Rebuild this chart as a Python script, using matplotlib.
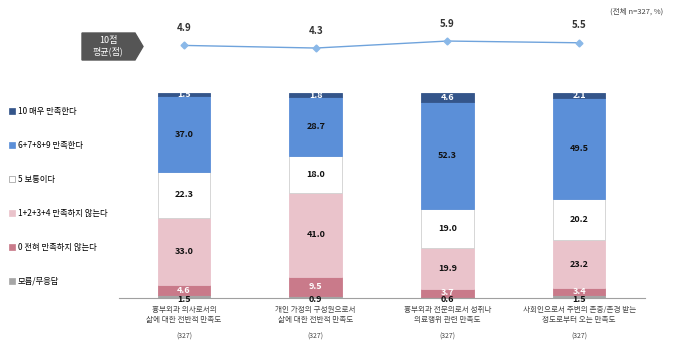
import matplotlib.pyplot as plt
from matplotlib.patches import Polygon, Patch

plt.rcParams['font.family'] = ['Noto Sans CJK KR', 'DejaVu Sans']

# ========== Data ==========
categories = [
    "흉부외과 의사로서의\n삶에 대한 전반적 만족도",
    "개인 가정의 구성원으로서\n삶에 대한 전반적 만족도",
    "흉부외과 전문의로서 성취나\n의료행위 관련 만족도",
    "사회인으로서 주변의 존중/존경 받는\n정도로부터 오는 만족도",
]
counts = ["(327)", "(327)", "(327)", "(327)"]

# stacked bottom -> top
series_names = ["모름/무응답", "0 전혀 만족하지 않는다", "1+2+3+4 만족하지 않는다",
                "5 보통이다", "6+7+8+9 만족한다", "10 매우 만족한다"]
dont_know = [1.5, 0.9, 0.6, 1.5]
score_0 = [4.6, 9.5, 3.7, 3.4]
score_1_4 = [33.0, 41.0, 19.9, 23.2]
score_5 = [22.3, 18.0, 19.0, 20.2]
score_6_9 = [37.0, 28.7, 52.3, 49.5]
score_10 = [1.5, 1.8, 4.6, 2.1]
means = [4.9, 4.3, 5.9, 5.5]

colors = ["#a6a6a6", "#c97a8a", "#eac3cb", "#ffffff", "#5b8fd8", "#34558a"]
text_colors = ["#111111", "white", "#111111", "#111111", "#111111", "white"]

# ========== Figure ==========
fig = plt.figure(figsize=(6.8, 3.5), dpi=100)
ax = fig.add_axes([0.175, 0.1486, 0.7735, 0.5857])

x = list(range(len(categories)))
stack = [dont_know, score_0, score_1_4, score_5, score_6_9, score_10]
bottom = [0.0] * len(x)
handles = []
for i, vals in enumerate(stack):
    ax.bar(x, vals, bottom=bottom, width=0.40, color=colors[i],
           edgecolor="#d0d0d0" if i == 3 else colors[i], linewidth=0.6)
    for j, v in enumerate(vals):
        if i == 0:
            ypos = -0.6
        else:
            ypos = bottom[j] + v / 2
        ax.text(x[j], ypos, f"{v:.1f}", ha="center", va="center",
                fontsize=6.5, fontweight="bold", color=text_colors[i])
    bottom = [b + v for b, v in zip(bottom, vals)]
    handles.append(Patch(facecolor=colors[i],
                         edgecolor="#999999" if i == 3 else colors[i],
                         linewidth=0.5, label=series_names[i]))

ax.set_xlim(-0.494, 3.5)
ax.set_ylim(0, 100)
for s in ["top", "right", "left"]:
    ax.spines[s].set_visible(False)
ax.spines["bottom"].set_color("#a0a0a0")
ax.set_yticks([])
ax.set_xticks(x)
ax.set_xticklabels(categories, fontsize=5.5, color="#444444", linespacing=1.3)
ax.tick_params(axis="x", length=0, pad=6)
for j, c in enumerate(counts):
    ax.text(x[j], -19, c, ha="center", va="center", fontsize=5, color="#444444")

# ---- mean line ----
ax2 = fig.add_axes([0.175, 0.809, 0.7735, 0.105])
ax2.plot(x, means, color="#6fa3dc", linewidth=1.0, marker="D", markersize=3.5,
         markerfacecolor="#8ab8e8", markeredgecolor="#8ab8e8")
for j, m in enumerate(means):
    ax2.annotate(f"{m:.1f}", (x[j], m), xytext=(0, 9), textcoords="offset points",
                 ha="center", va="bottom", fontsize=7, fontweight="bold", color="#333333")
ax2.set_xlim(-0.494, 3.5)
ax2.set_ylim(0, 8.4)
ax2.axis("off")

# ---- "10점 평균(점)" tag ----
tag = Polygon([(82 / 680, 1 - 33 / 350), (135 / 680, 1 - 33 / 350),
               (143 / 680, 1 - 46.5 / 350), (135 / 680, 1 - 60 / 350),
               (82 / 680, 1 - 60 / 350)],
              closed=True, transform=fig.transFigure, facecolor="#555555",
              edgecolor="#555555")
fig.patches.append(tag)
fig.text(108 / 680, 1 - 46.5 / 350, "10점\n평균(점)", ha="center", va="center",
         fontsize=6.5, color="white", linespacing=1.2)

fig.text(0.975, 1 - 12 / 350, "(전체 n=327, %)", ha="right", va="center",
         fontsize=5.5, color="#444444")

# ---- legend ----
fig.legend(handles=handles[::-1], loc="upper left", bbox_to_anchor=(0.008, 0.705),
           frameon=False, fontsize=6, labelspacing=3.0, handlelength=0.7,
           handleheight=0.7, handletextpad=0.4, borderaxespad=0)

fig.savefig("out.png", dpi=100, facecolor="white")
